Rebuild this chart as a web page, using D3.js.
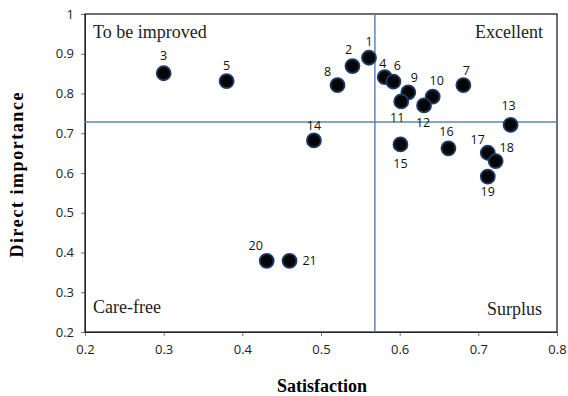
<!DOCTYPE html>
<html>
<head>
<meta charset="utf-8">
<script src="https://cdn.jsdelivr.net/npm/d3@7"></script>
<style>
  body { margin: 0; background: #fff; }
</style>
</head>
<body>
<div id="chart"></div>
<script>
// --------------------------------------
//  Data
// --------------------------------------

const ids = [1, 2, 3, 4, 5, 6, 7, 8, 9, 10, 11, 12, 13, 14, 15, 16, 17, 18, 19, 20, 21];
const satisfaction = [0.561, 0.540, 0.300, 0.581, 0.380, 0.592, 0.681, 0.521, 0.611, 0.642, 0.602,
                      0.631, 0.741, 0.491, 0.601, 0.662, 0.712, 0.722, 0.712, 0.431, 0.460];
const importance = [0.890, 0.869, 0.851, 0.841, 0.831, 0.830, 0.821, 0.821, 0.803, 0.792, 0.780,
                    0.770, 0.721, 0.682, 0.672, 0.662, 0.651, 0.630, 0.591, 0.379, 0.379];
// where each number label sits, relative to its point
const labelDx = [0, -4, 0, -2, 0, 4, 3, -10, 6, 4, -4, -1, -2, 0, 0, -2, -10, 11, 0, -11, 20];
const labelDy = [-16, -17, -18, -14, -16, -16, -15, -14, -15, -16, 16, 17, -19, -15, 19, -17, -13, -14, 15, -15, 0];

const meanSatisfaction = 0.5685;
const meanImportance = 0.728;

const xTicks = [0.2, 0.3, 0.4, 0.5, 0.6, 0.7, 0.8];
const yTicks = [0.2, 0.3, 0.4, 0.5, 0.6, 0.7, 0.8, 0.9, 1];

const data = ids.map((id, i) => ({
  id: id,
  x: satisfaction[i],
  y: importance[i],
  dx: labelDx[i],
  dy: labelDy[i]
}));

// --------------------------------------
//  Margin and canvas
// --------------------------------------

const width = 568;
const height = 396;
const margin = {top: 14, right: 11, bottom: 64, left: 85};
const innerwidth = width - margin.left - margin.right;
const innerheight = height - margin.top - margin.bottom;

const svg = d3.select("#chart")
  .append("svg")
    .attr("width", width)
    .attr("height", height);

const innerChart = svg.append("g")
    .attr("transform", `translate(${margin.left}, ${margin.top})`);

// --------------------------------------
//  Scales
// --------------------------------------

const x = d3.scaleLinear().domain([0.2, 0.8]).range([0, innerwidth]);
const y = d3.scaleLinear().domain([0.2, 1]).range([innerheight, 0]);

// --------------------------------------
//  Axes
// --------------------------------------

const fmt = d => d === 1 ? "1" : d3.format(".1f")(d);

const xAxis = innerChart.append("g")
    .attr("transform", `translate(0, ${innerheight})`)
    .call(d3.axisBottom(x).tickValues(xTicks).tickSize(4).tickSizeOuter(0).tickPadding(9).tickFormat(fmt));

const yAxis = innerChart.append("g")
    .call(d3.axisLeft(y).tickValues(yTicks).tickSize(4).tickSizeOuter(0).tickPadding(7).tickFormat(fmt));

[xAxis, yAxis].forEach(a => {
  a.selectAll("text")
    .style("font-family", "'Open Sans', sans-serif")
    .style("font-size", "13px")
    .attr("fill", "#222");
  a.selectAll("line").attr("stroke", "#777");
  a.select(".domain").attr("stroke", "#444");
});

// frame
innerChart.append("rect")
    .attr("width", innerwidth)
    .attr("height", innerheight)
    .attr("fill", "none")
    .attr("stroke", "#111")
    .attr("stroke-width", 1.2);

// quadrant lines
innerChart.append("line")
    .attr("x1", x(meanSatisfaction)).attr("x2", x(meanSatisfaction))
    .attr("y1", 0).attr("y2", innerheight)
    .attr("stroke", "#5b86bd").attr("stroke-width", 1.5);

innerChart.append("line")
    .attr("x1", 0).attr("x2", innerwidth)
    .attr("y1", y(meanImportance)).attr("y2", y(meanImportance))
    .attr("stroke", "#5b86bd").attr("stroke-width", 1.5);

// --------------------------------------
//  Quadrant names
// --------------------------------------

const serif = "'Liberation Serif', 'Times New Roman', serif";

const quad = (tx, ty, anchor, label) => innerChart.append("text")
    .attr("x", tx).attr("y", ty)
    .attr("text-anchor", anchor)
    .style("font-family", serif)
    .style("font-size", "18px")
    .attr("fill", "#222")
    .text(label);

quad(8, 24, "start", "To be improved");
quad(innerwidth - 14, 24, "end", "Excellent");
quad(8, innerheight - 19, "start", "Care-free");
quad(innerwidth - 15, innerheight - 17, "end", "Surplus");

// --------------------------------------
//  Points
// --------------------------------------

innerChart.selectAll(".pt")
    .data(data)
    .join("circle")
    .attr("class", "pt")
    .attr("cx", d => x(d.x))
    .attr("cy", d => y(d.y))
    .attr("r", 7)
    .attr("fill", "#050505")
    .attr("stroke", "#1d3b66")
    .attr("stroke-width", 1.8);

innerChart.selectAll(".lbl")
    .data(data)
    .join("text")
    .attr("class", "lbl")
    .attr("x", d => x(d.x) + d.dx)
    .attr("y", d => y(d.y) + d.dy)
    .attr("text-anchor", "middle")
    .attr("dominant-baseline", "central")
    .style("font-family", "'Open Sans', sans-serif")
    .style("font-size", "12.5px")
    .attr("fill", "#111")
    .text(d => d.id);

// --------------------------------------
//  Axis titles
// --------------------------------------

svg.append("text")
    .attr("x", 322)
    .attr("y", 392)
    .attr("text-anchor", "middle")
    .style("font-family", serif)
    .style("font-weight", "bold")
    .style("font-size", "18px")
    .text("Satisfaction");

svg.append("text")
    .attr("transform", `translate(23, 175) rotate(-90)`)
    .attr("text-anchor", "middle")
    .attr("textLength", 165)
    .style("font-family", serif)
    .style("font-weight", "bold")
    .style("font-size", "18px")
    .text("Direct importance");
</script>
</body>
</html>
